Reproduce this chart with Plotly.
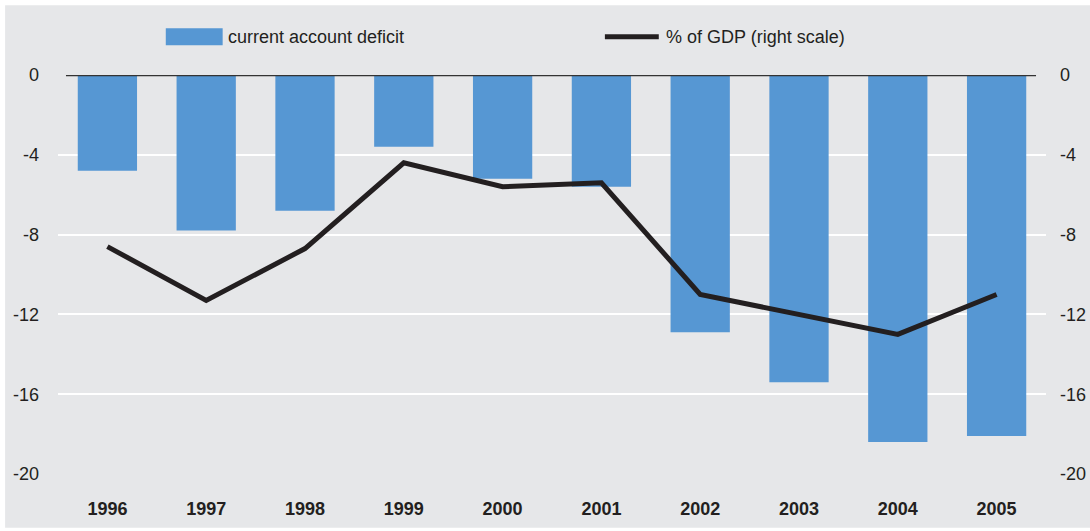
import plotly.graph_objects as go

years = ["1996", "1997", "1998", "1999", "2000", "2001", "2002", "2003", "2004", "2005"]
deficit = [-4.8, -7.8, -6.8, -3.6, -5.2, -5.6, -12.9, -15.4, -18.4, -18.1]
pct_gdp = [-8.6, -11.3, -8.7, -4.4, -5.6, -5.4, -11.0, -12.0, -13.0, -11.0]
y_ticks = [0, -4, -8, -12, -16, -20]
y_tick_text = ["0", "-4", "-8", "-12", "-16", "-20"]
bar_name = "current account deficit"
line_name = "% of GDP (right scale)"

BG = "#e6e7e9"
BAR = "#5697d3"
INK = "#231f20"
FONT = "Liberation Sans, Arial, sans-serif"

SX = 1098 / 1090  # horizontal compensation for the capture
# plot area in reference pixels: x 58..1048, y 75..476
L, R, T, B = 58, 1048, 75, 476
W, H = 1090, 531
def px(x):
    return (x - L) / (R - L)
def py(y):
    return (B - y) / (B - T)

fig = go.Figure()
fig.add_trace(go.Bar(x=years, y=deficit, name=bar_name, marker=dict(color=BAR, line=dict(width=0)),
                     showlegend=False, yaxis="y"))
fig.add_trace(go.Scatter(x=years, y=pct_gdp, name=line_name, mode="lines",
                         line=dict(color=INK, width=5), showlegend=False, yaxis="y2"))

shapes = [
    dict(type="rect", xref="paper", yref="paper", x0=px(5), x1=px(1100), y0=py(5), y1=py(530),
         fillcolor=BG, line=dict(width=0), layer="below"),
    dict(type="line", xref="paper", yref="y", x0=px(66), x1=px(1038), y0=0, y1=0,
         line=dict(color="#333333", width=2.5)),
    dict(type="rect", xref="paper", yref="paper", x0=px(166), x1=px(223), y0=py(45), y1=py(28),
         fillcolor=BAR, line=dict(width=0)),
    dict(type="line", xref="paper", yref="paper", x0=px(606), x1=px(660), y0=py(36.5), y1=py(36.5),
         line=dict(color=INK, width=5)),
]
annotations = [
    dict(xref="paper", yref="paper", x=px(226), y=py(37), text=bar_name, showarrow=False,
         xanchor="left", yanchor="middle", font=dict(size=18, color=INK, family=FONT)),
    dict(xref="paper", yref="paper", x=px(665), y=py(37), text=line_name, showarrow=False,
         xanchor="left", yanchor="middle", font=dict(size=18, color=INK, family=FONT)),
]

fig.update_layout(
    width=round(W * SX), height=H,
    margin=dict(l=L * SX, r=(W - R) * SX, t=T, b=H - B, pad=0),
    paper_bgcolor="white", plot_bgcolor=BG,
    font=dict(family=FONT, size=18, color=INK),
    bargap=0.4,
    shapes=shapes, annotations=annotations,
    xaxis=dict(type="category", range=[-0.5, 9.5], showgrid=False, zeroline=False, showline=False,
               ticks="", tickfont=dict(size=18, color=INK, family=FONT), ticklabelstandoff=22,
               tickprefix="<b>", ticksuffix="</b>", fixedrange=True),
    yaxis=dict(range=[-20, 0], tickvals=y_ticks, ticktext=y_tick_text, showgrid=True,
               gridcolor="white", gridwidth=2,
               zeroline=True, zerolinecolor=BG, zerolinewidth=3, showline=False, ticks="",
               ticklabelstandoff=18, tickfont=dict(size=18, color=INK, family=FONT)),
    yaxis2=dict(range=[-20, 0], tickvals=y_ticks, ticktext=y_tick_text, overlaying="y",
                side="right", showgrid=False,
                zeroline=False, showline=False, ticks="", ticklabelstandoff=13,
                tickfont=dict(size=18, color=INK, family=FONT)),
)

fig.write_html(
    "out.html",
    config={"displayModeBar": False},
    post_script=(
        "document.body.style.margin='0';"
        "document.body.style.overflow='hidden';"
        "document.documentElement.style.overflow='hidden';"
    ),
)
